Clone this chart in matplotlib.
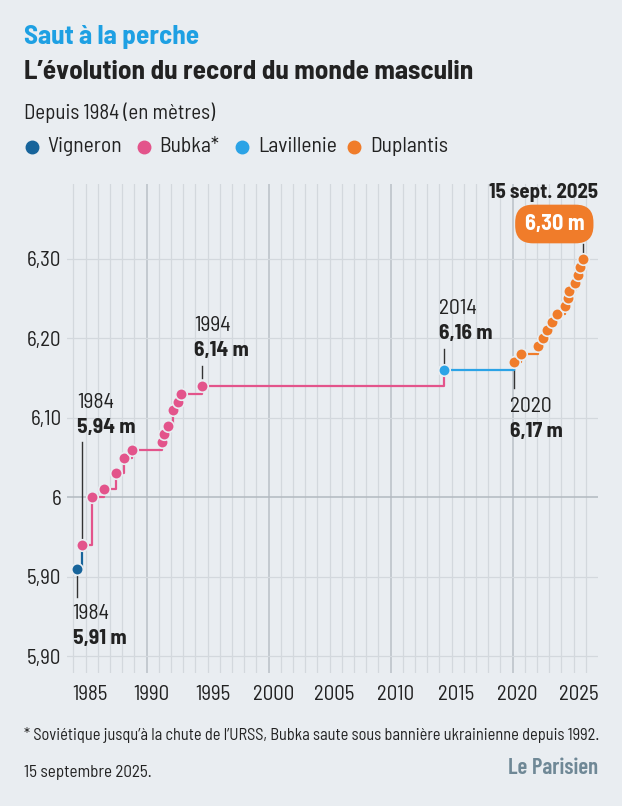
import matplotlib
matplotlib.use('Agg')
import matplotlib.pyplot as plt

plt.rcParams['font.family'] = ['Barlow Semi Condensed', 'Roboto', 'DejaVu Sans']

# records du monde (date en année décimale, hauteur en m, détenteur)
rec_year = [1984.28, 1984.74, 1985.56, 1986.52, 1987.50, 1988.18, 1988.79,
            1991.25, 1991.46, 1991.79, 1992.15, 1992.56, 1992.85, 1994.52,
            2014.41,
            2020.12, 2020.67, 2022.11, 2022.47, 2022.83, 2023.21, 2023.62,
            2024.30, 2024.57, 2024.63, 2025.15, 2025.34, 2025.53, 2025.75]
rec_height = [5.91, 5.94, 6.00, 6.01, 6.03, 6.05, 6.06,
              6.07, 6.08, 6.09, 6.11, 6.12, 6.13, 6.14,
              6.16,
              6.17, 6.18, 6.19, 6.20, 6.21, 6.22, 6.23,
              6.24, 6.25, 6.26, 6.27, 6.28, 6.29, 6.30]
rec_holder = ['Vigneron'] + ['Bubka*'] * 13 + ['Lavillenie'] + ['Duplantis'] * 14

holders = ['Vigneron', 'Bubka*', 'Lavillenie', 'Duplantis']
colors = {'Vigneron': '#17649b', 'Bubka*': '#e3548b',
          'Lavillenie': '#2ba3e6', 'Duplantis': '#f07c2a'}

ytick_vals = [6.30, 6.20, 6.10, 6.00, 5.90, 5.80]
ytick_labels = ['6,30', '6,20', '6,10', '6', '5,90', '5,90']
xtick_years = [1985, 1990, 1995, 2000, 2005, 2010, 2015, 2020, 2025]

bg = '#e9edf1'
dark = '#222222'

W, H = 622, 806
fig = plt.figure(figsize=(W / 100, H / 100), dpi=100, facecolor=bg)
ax = fig.add_axes([67 / W, 1 - 673 / H, (598 - 67) / W, (673 - 184) / H])
ax.set_facecolor(bg)
ax.set_xlim(1983.48, 2027.0)
ax.set_ylim(5.779, 6.394)
for s in ax.spines.values():
    s.set_visible(False)

# grille
for yr in range(1984, 2027):
    if yr % 10 == 0:
        ax.axvline(yr, color='#b9c0c7', lw=1.1, zorder=1)
    else:
        ax.axvline(yr, color='#d3d8dd', lw=0.9, zorder=1)
for v in ytick_vals:
    if v == 6.00:
        ax.axhline(v, color='#b2b9c0', lw=1.1, zorder=1)
    else:
        ax.axhline(v, color='#d3d8dd', lw=0.9, zorder=1)

ax.set_yticks(ytick_vals)
ax.set_yticklabels(ytick_labels)
ax.set_xticks([y + 0.4 for y in xtick_years])
ax.set_xticklabels([str(y) for y in xtick_years])
ax.tick_params(axis='both', length=0, labelsize=15, colors=dark)
ax.tick_params(axis='y', pad=4)
ax.tick_params(axis='x', pad=9)

# courbe en escalier
for i in range(len(rec_year) - 1):
    c = colors[rec_holder[i]]
    ax.plot([rec_year[i], rec_year[i + 1], rec_year[i + 1]],
            [rec_height[i], rec_height[i], rec_height[i + 1]],
            color=c, lw=1.6, zorder=3, solid_capstyle='butt')
for h in holders:
    xs = [x for x, hh in zip(rec_year, rec_holder) if hh == h]
    ys = [y for y, hh in zip(rec_height, rec_holder) if hh == h]
    ax.plot(xs, ys, 'o', color=colors[h], ms=8.3, mec=bg, mew=1.2, zorder=4)

# annotations
lead = '#333333'
def label(x, y_top, year, value, ha='left'):
    ax.text(x, y_top, year, fontsize=15.5, color=dark, ha=ha, va='center')
    ax.text(x, y_top - 0.031, value, fontsize=15.5, color=dark, ha=ha,
            va='center', fontweight='bold')

label(1983.95, 5.854, '1984', '5,91 m')
ax.plot([1984.28, 1984.28], [5.902, 5.875], color=lead, lw=1, zorder=2)
label(1984.33, 6.119, '1984', '5,94 m')
ax.plot([1984.74, 1984.74], [6.07, 5.945], color=lead, lw=1, zorder=2)
label(1993.92, 6.216, '1994', '6,14 m')
ax.plot([1994.52, 1994.52], [6.165, 6.15], color=lead, lw=1, zorder=2)
label(2013.98, 6.237, '2014', '6,16 m')
ax.plot([2014.41, 2014.41], [6.187, 6.169], color=lead, lw=1, zorder=2)
label(2019.8, 6.114, '2020', '6,17 m')
ax.plot([2020.12, 2020.12], [6.164, 6.137], color=lead, lw=1, zorder=2)

ax.text(2027.03, 6.383, '15 sept. 2025', fontsize=15, color=dark,
        ha='right', va='center', fontweight='bold', clip_on=False)
ax.text(2023.42, 6.3437, '6,30 m', fontsize=16, color='white', ha='center',
        va='center', fontweight='bold', clip_on=False,
        bbox=dict(boxstyle='round,pad=0.42,rounding_size=0.8',
                  fc=colors['Duplantis'], ec='none'))
ax.plot([2025.75, 2025.75], [6.318, 6.309], color=lead, lw=1, zorder=2)

# en-tête
def ftext(x, y, s, **kw):
    fig.text(x / W, 1 - y / H, s, va='center', **kw)

ftext(24, 37, 'Saut à la perche', fontsize=19.5, fontweight='bold', color='#1ea0e3')
ftext(24, 72, 'L\u2019évolution du record du monde masculin', fontsize=19.5,
      fontweight='bold', color=dark)
ftext(24, 113, 'Depuis 1984 (en mètres)', fontsize=15, color=dark)

leg_dot_x = [31.7, 143.7, 242, 354.4]
for h, x in zip(holders, leg_dot_x):
    fig.lines.append(plt.Line2D([x / W], [1 - 147 / H], marker='o', ms=9,
                                color=colors[h], lw=0, transform=fig.transFigure))
    ftext(x + 16, 147, h, fontsize=15.5, color=dark)

# pied
ftext(24, 735, '* Soviétique jusqu\u2019à la chute de l\u2019URSS, Bubka saute sous '
      'bannière ukrainienne depuis 1992.', fontsize=11.8, color=dark)
ftext(24, 772, '15 septembre 2025.', fontsize=12.3, color=dark)
ftext(598, 768, 'Le Parisien', fontsize=16.5, fontweight=600, color='#6f8896',
      ha='right', family=['Barlow Condensed', 'Roboto', 'DejaVu Sans'])

fig.savefig('out.png', dpi=100, facecolor=bg)
